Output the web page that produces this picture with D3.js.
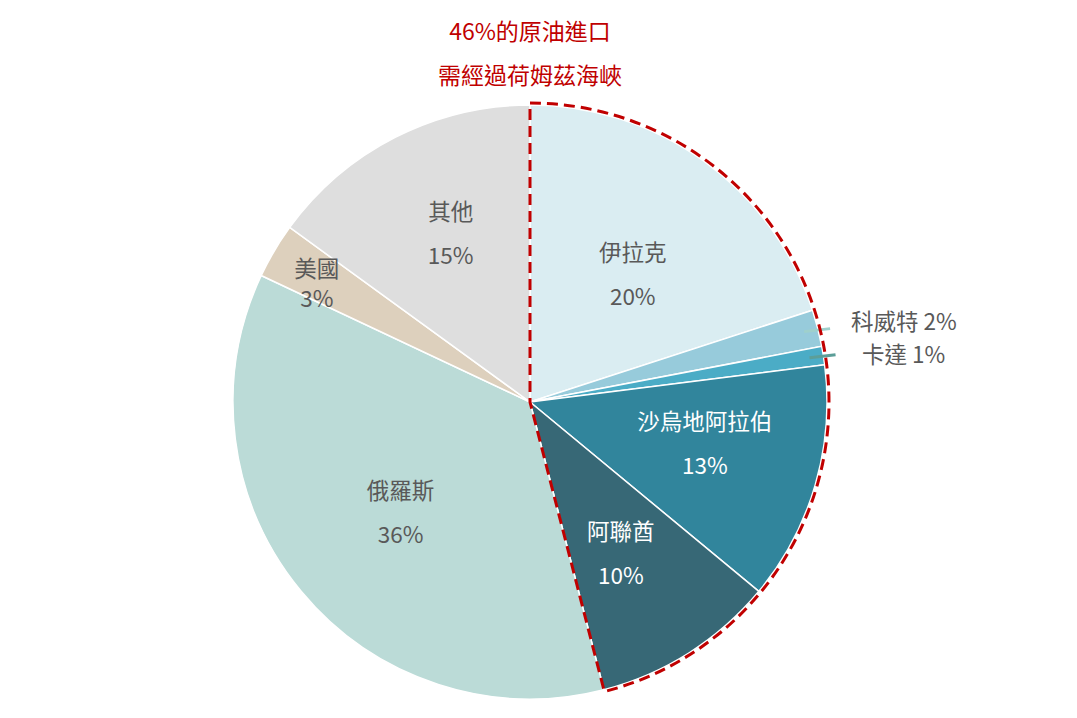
<!DOCTYPE html>
<html><head><meta charset="utf-8">
<script src="https://cdn.jsdelivr.net/npm/d3@7"></script>
<style>body{margin:0;background:#fff;} svg{display:block;}</style>
</head><body>
<svg id="chart" width="1077" height="718"></svg>
<script>
const categories = ["伊拉克","科威特","卡達","沙烏地阿拉伯","阿聯酋","俄羅斯","美國","其他"];
const values = [20, 2, 1, 13, 10, 36, 3, 15];
const colors = ["#daedf2","#97cbdb","#4bacc6","#31859c","#376876","#bbdbd7","#ddd0bd","#dedede"];
const titleLines = ["46%的原油進口","需經過荷姆茲海峽"];
const hormuzCount = 5; // first five slices pass through Hormuz

const W = 1077, H = 718, cx = 530, cy = 402, R = 297;
const svg = d3.select("#chart");
const font = "'Noto Sans CJK TC','Noto Sans',sans-serif";
const FS = 22.5;

const data = categories.map((c,i)=>({name:c, value:values[i], color:colors[i]}));
const pie = d3.pie().value(d=>d.value).sort(null);
const arcs = pie(data);
const arc = d3.arc().innerRadius(0).outerRadius(R);
const tot = d3.sum(values);

const g = svg.append("g").attr("transform",`translate(${cx},${cy})`);
g.selectAll("path.slice").data(arcs).join("path")
  .attr("class","slice")
  .attr("d",arc)
  .attr("fill",d=>d.data.color)
  .attr("stroke","#fff").attr("stroke-width",1.5);

// inside labels
const labelR = {"伊拉克":168,"沙烏地阿拉伯":180,"阿聯酋":175,"俄羅斯":168,"美國":243,"其他":188};
const labelAdj = {"伊拉克":[4,7],"沙烏地阿拉伯":[2,-10],"阿聯酋":[-3,2],"俄羅斯":[0,2],"美國":[-4,4],"其他":[6,-3]};
const lineGap = {"美國":15};
const whiteText = new Set(["沙烏地阿拉伯","阿聯酋"]);
arcs.forEach(a=>{
  const n = a.data.name;
  if(!(n in labelR)) return;
  const la = d3.arc().innerRadius(labelR[n]).outerRadius(labelR[n]);
  let [x,y] = la.centroid(a);
  x += labelAdj[n][0]; y += labelAdj[n][1];
  const gap = lineGap[n] || 22;
  const col = whiteText.has(n) ? "#ffffff" : "#595959";
  g.append("text").attr("x",x).attr("y",y-gap).attr("text-anchor","middle").attr("dominant-baseline","central")
    .attr("font-family",font).attr("font-size",FS).attr("fill",col).text(n);
  g.append("text").attr("x",x).attr("y",y+gap).attr("text-anchor","middle").attr("dominant-baseline","central")
    .attr("font-family",font).attr("font-size",FS).attr("fill",col).text(Math.round(a.data.value/tot*100)+"%");
});

// outside labels with leader lines
const outside = [{name:"科威特", lineColor:"#9fd0cc", tx:851, ty:320},{name:"卡達", lineColor:"#5c9e98", tx:862, ty:353}];
outside.forEach(o=>{
  const a = arcs.find(d=>d.data.name===o.name);
  const la = d3.arc().innerRadius(283).outerRadius(283);
  const [x,y] = la.centroid(a);
  g.append("line").attr("x1",x).attr("y1",y).attr("x2",x+26).attr("y2",y-3)
    .attr("stroke",o.lineColor).attr("stroke-width",3);
  svg.append("text").attr("x",o.tx).attr("y",o.ty).attr("dominant-baseline","central")
    .attr("font-family",font).attr("font-size",FS).attr("fill","#595959")
    .text(o.name+" "+Math.round(a.data.value/tot*100)+"%");
});

// dashed outline for Hormuz slices
const endAngle = arcs[hormuzCount-1].endAngle;
const outline = d3.arc().innerRadius(0).outerRadius(R+2).startAngle(0).endAngle(endAngle);
g.append("path").attr("d",outline()).attr("fill","none")
  .attr("stroke","#c00000").attr("stroke-width",3).attr("stroke-dasharray","11,6")
  .attr("stroke-linejoin","miter");

// title
titleLines.forEach((t,i)=>{
  svg.append("text").attr("x",cx).attr("y",30+i*44).attr("text-anchor","middle").attr("dominant-baseline","central")
    .attr("font-family",font).attr("font-size",23).attr("fill","#c00000").text(t);
});
</script>
</body></html>
